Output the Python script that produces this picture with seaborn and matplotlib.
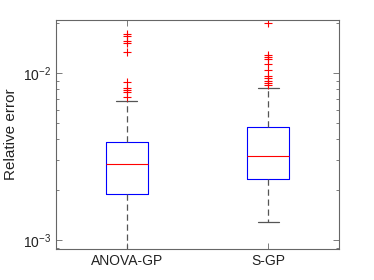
import numpy as np
import matplotlib
matplotlib.use("Agg")
import matplotlib.pyplot as plt
import seaborn as sns
from matplotlib.ticker import LogLocator, NullFormatter

# ---- data (box statistics) ----
categories = ["ANOVA-GP", "S-GP"]
q1 = [1.885e-3, 2.31e-3]
median = [2.84e-3, 3.18e-3]
q3 = [3.88e-3, 4.73e-3]
whisker_low = [8.0e-4, 1.276e-3]
whisker_high = [6.76e-3, 8.17e-3]
outliers_anova = [0.0170, 0.0166, 0.0156, 0.0151, 0.0133, 0.00887, 0.00815, 0.00790, 0.00767, 0.00717]
outliers_sgp = [0.01986, 0.0128, 0.0124, 0.0121, 0.0113, 0.0104, 0.00960, 0.00930, 0.00896, 0.00875, 0.00844]
outliers = [outliers_anova, outliers_sgp]
ylabel = "Relative error"

sns.set_style("white")
plt.rcParams["font.family"] = ["Liberation Sans", "DejaVu Sans"]
plt.rcParams["mathtext.fontset"] = "custom"
plt.rcParams["mathtext.rm"] = "Liberation Sans"
plt.rcParams["mathtext.it"] = "Liberation Sans:italic"
plt.rcParams["mathtext.bf"] = "Liberation Sans:bold"

fig = plt.figure(figsize=(3.74, 2.8), dpi=100)
ax = fig.add_axes([0.150, 0.1107, 0.756, 0.8179])

stats = []
for i, c in enumerate(categories):
    stats.append(dict(label=c, q1=q1[i], med=median[i], q3=q3[i],
                      whislo=whisker_low[i], whishi=whisker_high[i],
                      fliers=outliers[i]))

gray = "#555555"
ax.bxp(stats, positions=[1, 2], widths=0.3, showfliers=True,
       boxprops=dict(color="#0000ff", linewidth=0.8),
       medianprops=dict(color="#ff0000", linewidth=0.8),
       whiskerprops=dict(color=gray, linewidth=0.9, linestyle=(0, (5, 3))),
       capprops=dict(color=gray, linewidth=0.9),
       capwidths=0.15,
       flierprops=dict(marker="+", markeredgecolor="#ff0000", markersize=6,
                       markeredgewidth=0.8, linestyle="none"))

ax.set_yscale("log")
ax.set_ylim(10 ** -3.054, 10 ** -1.683)
ax.set_xlim(0.5, 2.5)
ax.set_xticks([1, 2])
ax.set_xticklabels(categories, fontsize=10, color="#222222")
ax.yaxis.set_major_locator(LogLocator(base=10, numticks=10))
ax.yaxis.set_minor_locator(LogLocator(base=10, subs=np.arange(2, 10), numticks=20))
ax.yaxis.set_minor_formatter(NullFormatter())
ax.set_yticks([1e-3, 1e-2])
ax.set_yticklabels([r"$10^{-3}$", r"$10^{-2}$"], fontsize=10, color="#222222")
ax.set_ylabel(ylabel, fontsize=11, color="#222222", labelpad=4)

for s in ax.spines.values():
    s.set_color("#666666")
    s.set_linewidth(0.8)
ax.tick_params(axis="both", which="both", direction="in", color="#666666",
               top=True, right=True, left=True, bottom=True)
ax.tick_params(axis="both", which="major", length=4, width=0.6)
ax.tick_params(axis="y", which="minor", length=2.5, width=0.6)

fig.savefig("out.png", dpi=100)
